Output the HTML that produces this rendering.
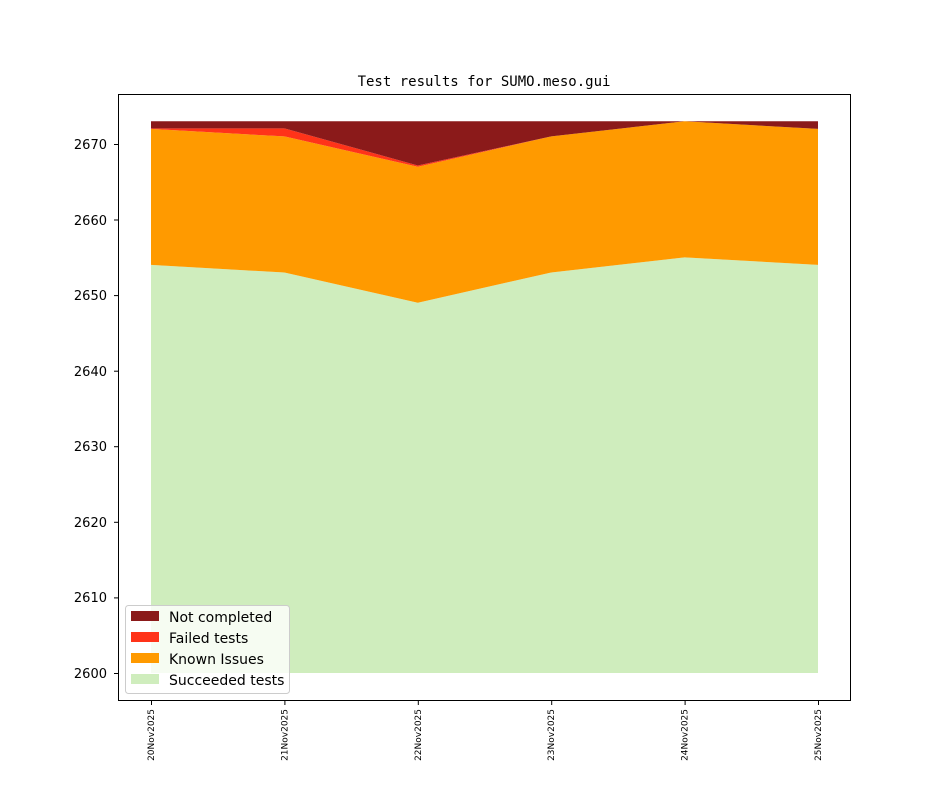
<!DOCTYPE html>
<html><head><meta charset="utf-8"><style>
html,body{margin:0;padding:0;background:#fff;}
svg{display:block;font-family:"DejaVu Sans","Liberation Sans",sans-serif;}
</style></head><body>
<svg width="944" height="787" viewBox="0 0 944 787">
<rect width="944" height="787" fill="#fff"/>
<text x="484" y="86" font-size="14" text-anchor="middle" font-family="DejaVu Sans Mono, Liberation Mono, monospace">Test results for SUMO.meso.gui</text>
<polygon fill="#cfedbd" points="151,264.9 284.4,272.5 417.8,302.7 551.2,272.5 684.6,257.4 818,264.9 818,673 151,673"/>
<polygon fill="#ff9a00" points="151,128.9 284.4,136.4 417.8,166.7 551.2,136.4 684.6,121.3 818,128.9 818,264.9 684.6,257.4 551.2,272.5 417.8,302.7 284.4,272.5 151,264.9"/>
<polygon fill="#ff3319" points="151,128.4 284.4,128.4 417.8,165.5 551.2,136.4 684.6,121.3 818,128.9 818,128.9 684.6,121.3 551.2,136.4 417.8,166.7 284.4,136.4 151,128.9"/>
<polygon fill="#8b1a1a" points="151,121.3 284.4,121.3 417.8,121.3 551.2,121.3 684.6,121.3 818,121.3 818,128.9 684.6,121.3 551.2,136.4 417.8,165.5 284.4,128.4 151,128.4"/>
<rect x="118.5" y="94.5" width="732" height="606" fill="none" stroke="#000" stroke-width="1"/>
<g stroke="#000" stroke-width="1">
<line x1="114" y1="144.5" x2="118" y2="144.5"/>
<line x1="114" y1="220" x2="118" y2="220"/>
<line x1="114" y1="295.6" x2="118" y2="295.6"/>
<line x1="114" y1="371.2" x2="118" y2="371.2"/>
<line x1="114" y1="446.7" x2="118" y2="446.7"/>
<line x1="114" y1="522.3" x2="118" y2="522.3"/>
<line x1="114" y1="597.9" x2="118" y2="597.9"/>
<line x1="114" y1="673.5" x2="118" y2="673.5"/>
<line x1="151.5" y1="701" x2="151.5" y2="705"/>
<line x1="284.9" y1="701" x2="284.9" y2="705"/>
<line x1="418.3" y1="701" x2="418.3" y2="705"/>
<line x1="551.7" y1="701" x2="551.7" y2="705"/>
<line x1="685.1" y1="701" x2="685.1" y2="705"/>
<line x1="818.5" y1="701" x2="818.5" y2="705"/>
</g>
<g font-size="13" text-anchor="end">
<text x="107" y="149">2670</text>
<text x="107" y="225">2660</text>
<text x="107" y="300">2650</text>
<text x="107" y="376">2640</text>
<text x="107" y="451">2630</text>
<text x="107" y="527">2620</text>
<text x="107" y="602">2610</text>
<text x="107" y="678">2600</text>
</g>
<g font-size="9" text-anchor="end">
<text transform="translate(154,709) rotate(-90)">20Nov2025</text>
<text transform="translate(287.4,709) rotate(-90)">21Nov2025</text>
<text transform="translate(420.8,709) rotate(-90)">22Nov2025</text>
<text transform="translate(554.2,709) rotate(-90)">23Nov2025</text>
<text transform="translate(687.6,709) rotate(-90)">24Nov2025</text>
<text transform="translate(821,709) rotate(-90)">25Nov2025</text>
</g>
<rect x="125.5" y="605.5" width="164" height="88" rx="3" fill="#fff" fill-opacity="0.8" stroke="#ccc"/>
<rect x="131" y="611" width="28" height="10" fill="#8b1a1a"/>
<rect x="131" y="632" width="28" height="10" fill="#ff3319"/>
<rect x="131" y="653" width="28" height="10" fill="#ff9a00"/>
<rect x="131" y="674" width="28" height="10" fill="#cfedbd"/>
<g font-size="14">
<text x="169" y="622">Not completed</text>
<text x="169" y="643">Failed tests</text>
<text x="169" y="664">Known Issues</text>
<text x="169" y="685">Succeeded tests</text>
</g>
</svg>
</body></html>
